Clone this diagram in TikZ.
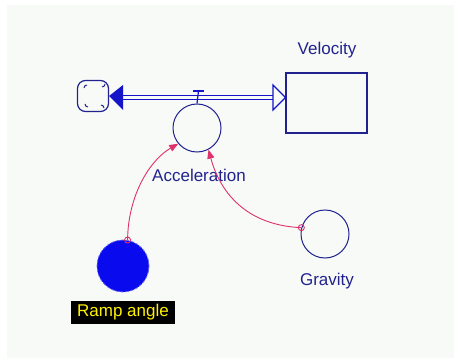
\documentclass[tikz,border=0pt]{standalone}
\usepackage{fontspec}
\setmainfont{Liberation Sans}
\usetikzlibrary{arrows.meta}
\definecolor{bgc}{HTML}{F7FAF7}
\definecolor{nav}{HTML}{22228E}
\definecolor{pipec}{HTML}{1414C8}
\definecolor{fillb}{HTML}{0A0AEE}
\definecolor{pinkc}{HTML}{E0306E}
\tikzset{
  x=1pt,y=-1pt,
  aux/.style={circle,draw=nav,line width=1pt,minimum size=48pt,inner sep=0pt},
  lbl/.style={text=nav,font=\fontsize{17}{17}\selectfont,inner sep=1pt},
  link/.style={draw=pinkc,line width=0.9pt,-{Triangle[length=9pt,width=7pt]}},
  origin/.style={circle,draw=pinkc,line width=0.9pt,minimum size=6pt,inner sep=0pt},
  pipe/.style={draw=pipec,line width=1.5pt,double=bgc,double distance=2.4pt}
}
\begin{document}
\begin{tikzpicture}
\useasboundingbox (0,0) rectangle (454,358);
\fill[white] (0,0) rectangle (454,358);
\fill[bgc] (7,5) rectangle (454,358);

% stock
\node[draw=nav,line width=1.2pt,minimum width=81pt,minimum height=60pt,inner sep=0pt] (vel) at (326.5,103) {};
\node[lbl] (vellbl) at (327,50) {Velocity};

% cloud
\node[draw=nav,line width=1.2pt,rounded corners=8pt,minimum size=31pt,inner sep=0pt] (cloud) at (93,96) {};
\draw[nav,line width=1pt] (84,88) arc (180:270:3) (102,87) arc (90:0:3) (85,104) arc (180:90:3) (101,105) arc (270:360:3);

% pipe
\coordinate (pl) at (120,97.5);
\coordinate (pr) at (275,97.5);
\draw[pipe] (pl) -- (pr);
\fill[pipec] (cloud.east) -- (123,85) -- (123,110) -- cycle;
\draw[pipec,line width=1.2pt,fill=bgc] (vel.west |- pr) -- (273,85) -- (273,110) -- cycle;

% auxiliaries
\node[aux] (acc) at (197,128) {};
\node[lbl] (acclbl) at (199,175) {Acceleration};
\node[aux] (grav) at (325,234) {};
\node[lbl] (gravlbl) at (327,281) {Gravity};
\node[circle,fill=fillb,draw=fillb!60!white,densely dashed,line width=0.8pt,minimum size=52pt,inner sep=0pt] (ramp) at (123,266) {};
\node[fill=black,text=yellow,font=\fontsize{17}{17}\selectfont,minimum width=104pt,minimum height=23pt,inner sep=0pt] (ramplbl) at (123,312.5) {Ramp angle};

% valve
\coordinate (vtop) at (198.5,91);
\draw[pipec,line width=1.2pt] (193,91) -- (204,91);
\draw[pipec,line width=1.2pt] (vtop) -- (acc.north);

% connectors
\node[origin] (ro) at (ramp.80) {};
\node[origin] (go) at (grav.165) {};
\draw[link] (ro.center) .. controls (128,195) and (150,160) .. (acc.220);
\draw[link] (go.center) .. controls (240,225) and (218,185) .. (acc.-62);
\end{tikzpicture}
\end{document}
